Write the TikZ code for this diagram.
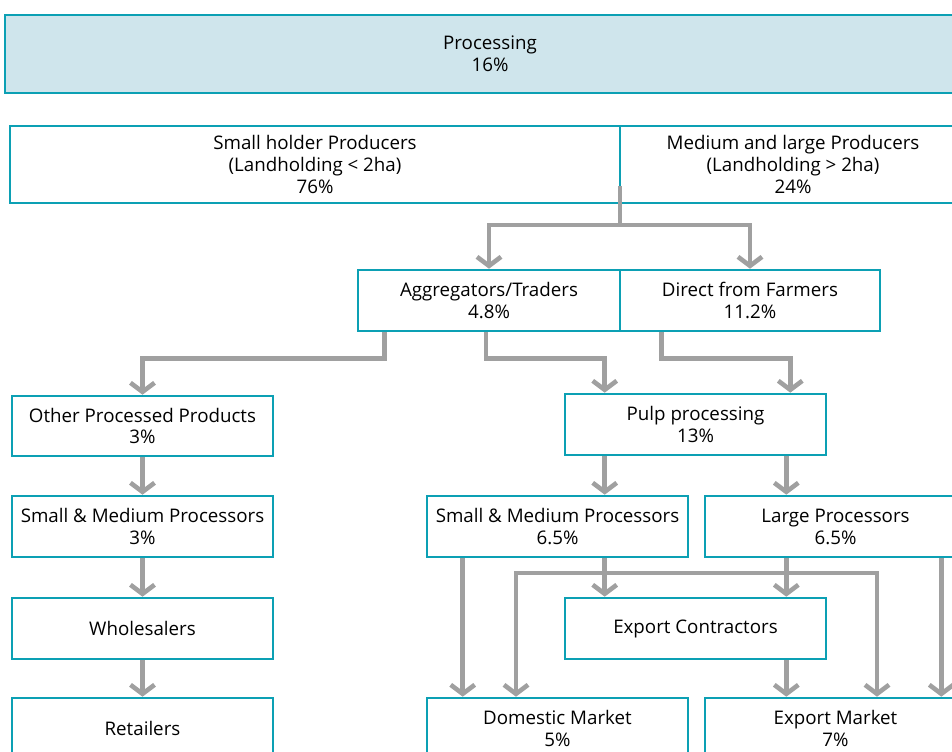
\documentclass[tikz,border=0pt]{standalone}
\usepackage{fontspec}
\setmainfont{Open Sans}
\usetikzlibrary{arrows.meta,calc}
\definecolor{tealborde}{RGB}{12,160,180}
\definecolor{azulclaro}{RGB}{207,229,236}
\definecolor{grisflujo}{RGB}{160,160,160}
\begin{document}
\begin{tikzpicture}[
    x=1bp, y=-1bp,
    stage/.style={rectangle, draw=tealborde, line width=2.6bp, align=center, inner sep=0pt, text=black, font=\fontsize{18.8}{22}\selectfont, minimum height=61bp, minimum width=261bp},
    flow/.style={-{Straight Barb[length=9bp, width=24bp]}, line width=4.6bp, grisflujo, line join=miter},
    flowline/.style={line width=4.6bp, grisflujo, line join=miter},
]
\useasboundingbox (0,0) rectangle (952,752);

\node (proc) [stage, fill=azulclaro, minimum width=970bp, minimum height=78bp] at (490,54) {Processing\\ 16\%};

\node (small) [stage, minimum width=610bp, minimum height=77bp] at (315,164.5) {Small holder Producers\\ (Landholding < 2ha)\\ 76\%};
\node (medium) [stage, minimum width=346bp, minimum height=77bp] at (793,164.5) {Medium and large Producers\\ (Landholding > 2ha)\\ 24\%};

\node (agg) [stage, minimum width=262bp] at (489,300.5) {Aggregators/Traders\\ 4.8\%};
\node (direct) [stage, minimum width=260bp] at (750,300.5) {Direct from Farmers\\ 11.2\%};

\node (other) [stage, minimum height=60bp] at (142.5,426) {Other Processed Products\\ 3\%};
\node (smleft) [stage] at (142.5,526.5) {Small \& Medium Processors\\ 3\%};
\node (whole) [stage] at (142.5,628.5) {Wholesalers};
\node (retail) [stage] at (142.5,728.5) {Retailers};

\node (pulp) [stage] at (695.5,424.5) {Pulp processing\\ 13\%};
\node (smright) [stage] at (557.5,526.5) {Small \& Medium Processors\\ 6.5\%};
\node (large) [stage] at (835.5,526.5) {Large Processors\\ 6.5\%};
\node (ec) [stage] at (695.5,628.5) {Export Contractors};
\node (dom) [stage] at (557.5,728.5) {Domestic Market\\ 5\%};
\node (exp) [stage] at (835.5,728.5) {Export Market\\ 7\%};

% producers to first buyers
\coordinate (split) at (620,225);
\draw [flowline] ([yshift=18bp]split |- small.south) -- (split);
\draw [flow] (split) -| (agg.north);
\draw [flow] (split) -| (direct.north);

% buyers to processing
\draw [flow] ([xshift=28bp]agg.south west) -- ++(0,26) -| (other.north);
\draw [flow] ([xshift=-3bp]agg.south) -- ++(0,26) -| ([xshift=41bp]pulp.north west);
\draw [flow] ([xshift=43bp]direct.south west) -- ++(0,26) -| ([xshift=-37bp]pulp.north east);

% left chain
\draw [flow] (other.south) -- (smleft.north);
\draw [flow] (smleft.south) -- (whole.north);
\draw [flow] (whole.south) -- (retail.north);

% pulp chain
\draw [flow] ([xshift=41bp]pulp.south west) -- ([xshift=41bp]pulp.south west |- smright.north);
\draw [flow] ([xshift=-41bp]pulp.south east) -- ([xshift=-41bp]pulp.south east |- large.north);

% processors to markets
\draw [flow] ([xshift=37bp]smright.south west) -- ([xshift=37bp]smright.south west |- dom.north);
\draw [flow] ([xshift=41bp]ec.north west |- smright.south) -- ([xshift=41bp]ec.north west);
\draw [flow] ([xshift=-41bp]ec.north east |- large.south) -- ([xshift=-41bp]ec.north east);
\coordinate (crossL) at (516,573);
\coordinate (crossR) at (877,573);
\draw [flow, {Straight Barb[length=9bp, width=24bp]}-{Straight Barb[length=9bp, width=24bp]}] (crossL |- dom.north) -- (crossL) -- (crossR) -- (crossR |- exp.north);
\draw [flow] ([xshift=-41bp]ec.south east) -- ([xshift=-41bp]ec.south east |- exp.north);
\draw [flow] ([xshift=-26bp]large.south east) -- ([xshift=-26bp]large.south east |- exp.north);

\end{tikzpicture}
\end{document}
